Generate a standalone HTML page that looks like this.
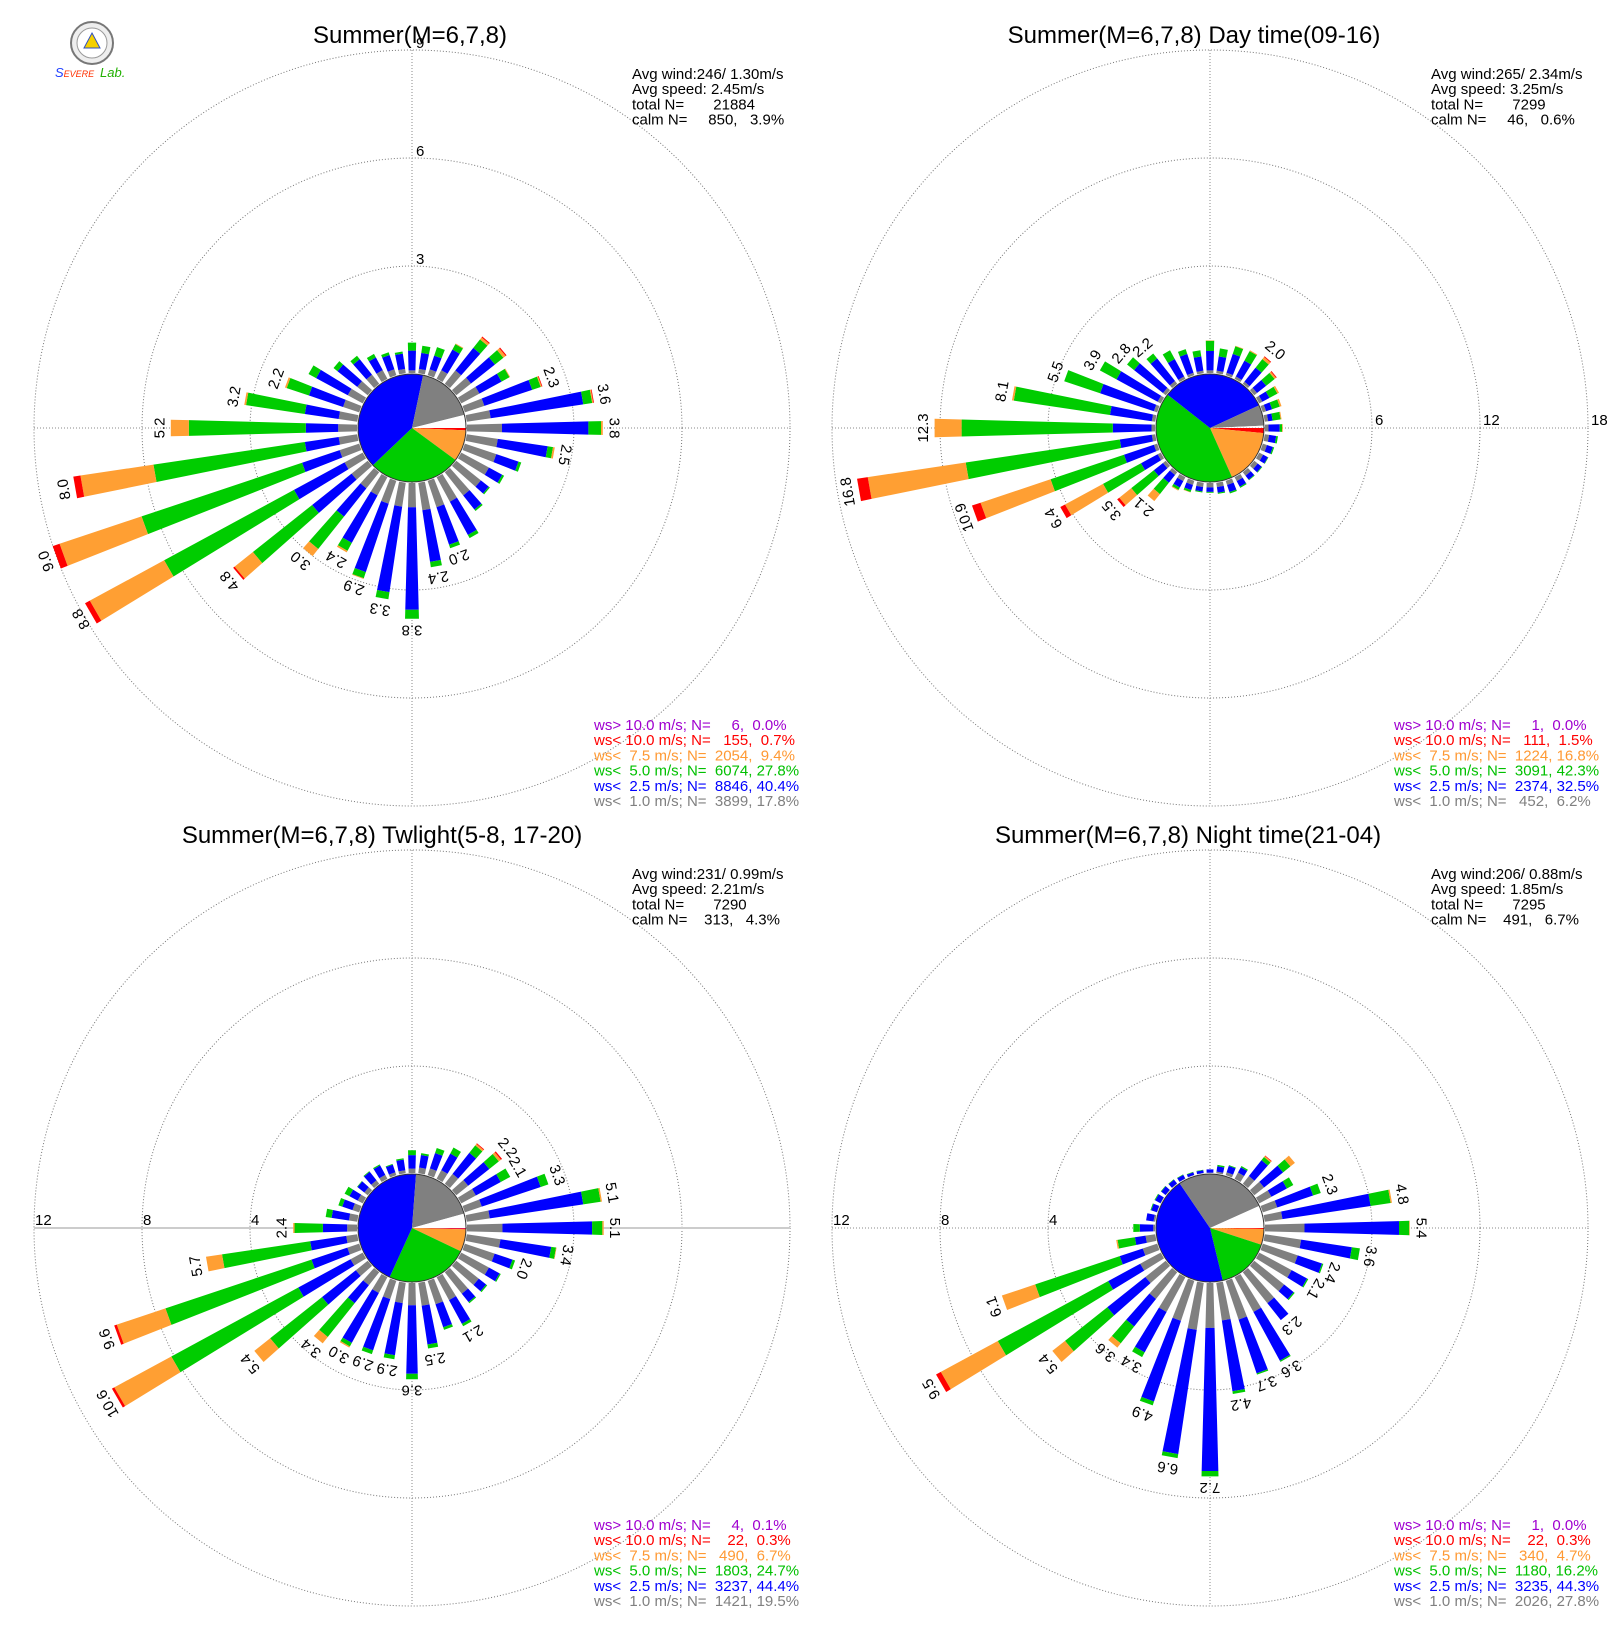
<!DOCTYPE html>
<html><head><meta charset="utf-8"><title>Summer wind roses</title>
<style>
html,body{margin:0;padding:0;background:#fff;}
svg{display:block;font-family:"Liberation Sans",sans-serif;}
</style></head>
<body>
<svg id="chart" width="1620" height="1640" viewBox="0 0 1620 1640" xmlns="http://www.w3.org/2000/svg">
<rect x="0" y="0" width="1620" height="1640" fill="#fff"/>
<g>
  <circle cx="92" cy="43" r="21" fill="#eee" stroke="#777" stroke-width="2"/>
  <circle cx="92" cy="43" r="15" fill="#fff" stroke="#999" stroke-width="1"/>
  <polygon points="92,33 100,48 84,48" fill="#f5d000" stroke="#3050c0" stroke-width="1"/>
  <text x="55" y="77" font-size="13" font-style="italic" fill="#2040ff">S<tspan fill="#ff3000" font-size="9">EVERE</tspan></text>
  <text x="100" y="77" font-size="13" font-style="italic" fill="#20b000">Lab.</text>
</g>
</svg>
<script>
// ---- cumulative stacked values per direction (0,10,...,350 deg) ----
// Top-left: Summer all
const tlGray  =[.1,.15,.2,.3,.5,.55,.6,.6,.7,1.0,.9,.95,.9,.9,.85,.8,.8,.8,.7,.7,.7,.6,.6,.6,.6,.6,.55,.55,.55,.5,.5,.4,.35,.3,.2,.15];
const tlBlue  =[.65,.6,.6,.95,1.3,1.4,1.3,2.0,3.3,3.4,2.3,1.6,1.32,1.18,1.35,1.85,1.9,2.25,3.55,3.1,2.7,2.1,1.6,2.0,2.2,1.7,1.5,1.45,1.5,1.5,1.5,1.1,.9,.7,.62,.58];
const tlGreen =[.87,.8,.85,1.12,1.6,1.7,1.55,2.25,3.55,3.75,2.45,1.68,1.38,1.22,1.4,1.95,2.0,2.4,3.8,3.3,2.88,2.35,2.75,4.1,6.3,6.4,5.75,4.7,3.15,2.15,1.74,1.24,1.02,.81,.7,.64];
const tlOrange=[.87,.8,.85,1.14,1.67,1.78,1.57,2.28,3.58,3.8,2.5,1.68,1.38,1.22,1.4,1.95,2.0,2.4,3.8,3.3,2.9,2.4,3.0,4.75,8.65,8.8,7.8,5.2,3.2,2.2,1.74,1.24,1.02,.81,.7,.64];
const tlTotal =[.87,.8,.85,1.14,1.7,1.81,1.57,2.3,3.6,3.8,2.5,1.68,1.38,1.22,1.4,1.95,2.0,2.4,3.8,3.3,2.9,2.4,3.0,4.8,8.8,9.0,8.0,5.2,3.2,2.2,1.74,1.24,1.02,.81,.7,.64];
const tlPie   =[0.0,0.7,9.4,27.8,40.4,17.8,3.9]; // purple, red, orange, green, blue, gray, calm
const tlTicks =[3,6,9];
// Top-right: Day time
const trGray  =[.2,.2,.2,.2,.2,.25,.25,.25,.25,.25,.3,.3,.3,.3,.3,.3,.3,.3,.3,.3,.3,.3,.25,.25,.25,.25,.25,.25,.25,.25,.25,.25,.25,.2,.2,.2];
const trBlue  =[1.28,1.0,1.3,1.2,1.2,.9,.7,.6,.5,.87,.7,.65,.6,.58,.58,.65,.72,.62,.55,.55,.6,.7,.8,.9,1.3,2.0,2.05,2.4,2.6,3.4,2.85,2.3,1.85,1.3,1.3,1.0];
const trGreen =[1.85,1.45,1.75,1.8,1.8,1.5,1.2,1.05,.95,1.0,.8,.72,.63,.62,.62,.72,.8,.68,.6,.6,.72,.85,1.6,2.5,3.7,6.3,10.7,10.8,8.0,5.5,3.9,2.8,2.2,1.85,1.58,1.35];
const trOrange=[1.87,1.45,1.78,1.85,1.95,1.6,1.3,1.15,1.0,1.04,.8,.72,.63,.62,.62,.72,.8,.68,.6,.6,.74,.9,2.1,3.35,6.1,10.4,16.2,12.3,8.1,5.5,3.9,2.8,2.2,1.85,1.58,1.35];
const trTotal =[1.87,1.45,1.78,1.85,2.0,1.65,1.3,1.15,1.0,1.04,.8,.72,.63,.62,.62,.72,.8,.68,.6,.6,.74,.9,2.1,3.5,6.4,10.9,16.8,12.3,8.1,5.5,3.9,2.8,2.2,1.85,1.58,1.35];
const trPie   =[0.0,1.5,16.8,42.3,32.5,6.2,0.6];
const trTicks =[6,12,18];
// Bottom-left: Twilight
const blGray  =[.2,.25,.3,.4,.5,.6,.65,.7,.9,1.35,1.3,1.2,1.2,1.1,1.05,1.0,.95,.9,.86,.8,.75,.7,.65,.6,.55,.5,.45,.4,.35,.3,.25,.2,.2,.2,.15,.15];
const blBlue  =[.7,.72,.9,1.1,1.5,1.6,1.7,3.0,4.4,4.67,3.2,1.9,1.65,1.45,1.45,2.0,1.85,2.35,3.4,2.75,2.75,2.8,1.5,2.2,2.75,1.9,1.8,1.3,1.0,.7,.6,.52,.6,.6,.45,.55];
const blGreen =[.88,.79,1.1,1.35,1.85,2.05,2.1,3.3,5.05,5.05,3.38,2.0,1.7,1.5,1.5,2.1,1.95,2.5,3.6,2.9,2.9,2.95,3.1,4.65,8.1,7.6,5.1,2.35,1.22,.85,.8,.54,.63,.64,.48,.6];
const blOrange=[.88,.79,1.1,1.35,1.92,2.15,2.1,3.3,5.1,5.1,3.4,2.0,1.7,1.5,1.5,2.1,1.95,2.5,3.6,2.9,2.9,3.0,3.4,5.4,10.5,9.5,5.7,2.4,1.22,.85,.8,.54,.63,.64,.48,.6];
const blTotal =[.88,.79,1.1,1.35,1.95,2.2,2.1,3.3,5.1,5.1,3.4,2.0,1.7,1.5,1.5,2.1,1.95,2.5,3.6,2.9,2.9,3.0,3.4,5.4,10.6,9.6,5.7,2.4,1.22,.85,.8,.54,.63,.64,.48,.6];
const blPie   =[0.1,0.3,6.7,24.7,44.4,19.5,4.3];
const blTicks =[4,8,12];
// Bottom-right: Night time
const brGray  =[.05,.1,.15,.3,.4,.5,.55,.6,.7,1.5,1.4,1.4,1.4,1.45,1.5,1.5,1.55,1.45,1.7,1.8,1.6,1.5,1.3,1.0,.9,.6,.4,.1,.1,.05,.05,.05,.05,.05,.05,.05];
const brBlue  =[.17,.3,.4,.52,1.15,1.4,1.2,2.0,4.0,5.0,3.3,2.35,2.05,1.9,2.3,3.55,3.65,4.1,7.0,6.45,4.75,3.2,2.6,2.8,2.25,1.5,.8,.6,.38,.27,.27,.25,.23,.2,.15,.15];
const brGreen =[.17,.35,.43,.57,1.3,1.75,1.47,2.3,4.75,5.38,3.6,2.4,2.1,1.95,2.3,3.6,3.7,4.2,7.2,6.6,4.9,3.4,3.4,4.8,6.9,4.8,1.45,.84,.38,.3,.3,.27,.25,.22,.17,.17];
const brOrange=[.17,.35,.43,.57,1.35,1.96,1.47,2.3,4.8,5.4,3.6,2.4,2.1,1.95,2.3,3.6,3.7,4.2,7.2,6.6,4.9,3.4,3.6,5.4,9.3,6.1,1.5,.84,.38,.3,.3,.27,.25,.22,.17,.17];
const brTotal =[.17,.35,.43,.57,1.37,1.96,1.47,2.3,4.8,5.4,3.6,2.4,2.1,1.95,2.3,3.6,3.7,4.2,7.2,6.6,4.9,3.4,3.6,5.4,9.5,6.1,1.5,.84,.38,.3,.3,.27,.25,.22,.17,.17];
const brPie   =[0.0,0.3,4.7,16.2,44.3,27.8,6.7];
const brTicks =[4,8,12];

const tlStats=["Avg wind:246/ 1.30m/s","Avg speed: 2.45m/s","total N=       21884","calm N=     850,   3.9%"];
const trStats=["Avg wind:265/ 2.34m/s","Avg speed: 3.25m/s","total N=       7299","calm N=     46,   0.6%"];
const blStats=["Avg wind:231/ 0.99m/s","Avg speed: 2.21m/s","total N=       7290","calm N=    313,   4.3%"];
const brStats=["Avg wind:206/ 0.88m/s","Avg speed: 1.85m/s","total N=       7295","calm N=    491,   6.7%"];
const tlLegend=["ws> 10.0 m/s; N=     6,  0.0%","ws< 10.0 m/s; N=   155,  0.7%","ws<  7.5 m/s; N=  2054,  9.4%","ws<  5.0 m/s; N=  6074, 27.8%","ws<  2.5 m/s; N=  8846, 40.4%","ws<  1.0 m/s; N=  3899, 17.8%"];
const trLegend=["ws> 10.0 m/s; N=     1,  0.0%","ws< 10.0 m/s; N=   111,  1.5%","ws<  7.5 m/s; N=  1224, 16.8%","ws<  5.0 m/s; N=  3091, 42.3%","ws<  2.5 m/s; N=  2374, 32.5%","ws<  1.0 m/s; N=   452,  6.2%"];
const blLegend=["ws> 10.0 m/s; N=     4,  0.1%","ws< 10.0 m/s; N=    22,  0.3%","ws<  7.5 m/s; N=   490,  6.7%","ws<  5.0 m/s; N=  1803, 24.7%","ws<  2.5 m/s; N=  3237, 44.4%","ws<  1.0 m/s; N=  1421, 19.5%"];
const brLegend=["ws> 10.0 m/s; N=     1,  0.0%","ws< 10.0 m/s; N=    22,  0.3%","ws<  7.5 m/s; N=   340,  4.7%","ws<  5.0 m/s; N=  1180, 16.2%","ws<  2.5 m/s; N=  3235, 44.3%","ws<  1.0 m/s; N=  2026, 27.8%"];

const NS="http://www.w3.org/2000/svg";
const svg=document.getElementById('chart');
const COLORS=['#808080','#0000ff','#00cc00','#ff9f33','#ff0000'];
const PIECOL=['#a020f0','#ff0000','#ff9f33','#00cc00','#0000ff','#808080','#ffffff'];
const LEGCOL=['#a000d0','#ff0000','#ff9933','#00c000','#0000ff','#808080'];
const CLASSNAMES=['calm-lt1','lt2p5','lt5','lt7p5','lt10'];

function mk(tag,attrs,parent){const e=document.createElementNS(NS,tag);for(const k in attrs)e.setAttribute(k,attrs[k]);(parent||svg).appendChild(e);return e;}

function panel(p){
  const g=mk('g',{});
  
  
  const R0=54, RMAX=378, kx=(RMAX-R0)/p.ticks[p.ticks.length-1];
  const rad=v=>R0+v*kx;
  p.ticks.forEach(t=>{
    const c=mk('circle',{cx:p.cx,cy:p.cy,r:rad(t),fill:'none',stroke:'#777','stroke-width':1,'stroke-dasharray':'1,2'},g);
    
    
  });
  const av=mk('line',{x1:p.cx,y1:p.cy-RMAX,x2:p.cx,y2:p.cy+RMAX,stroke:'#888','stroke-width':1,'stroke-dasharray':'1,2'},g);
  
  
  const ah=mk('line',{x1:p.cx-RMAX,y1:p.cy,x2:p.cx+RMAX,y2:p.cy,stroke:p.hSolid?'#ccc':'#888','stroke-width':p.hSolid?2:1,'stroke-dasharray':p.hSolid?'none':'1,2'},g);
  
  
  p.ticks.forEach(t=>{
    let x,y;
    if(p.tickSide==='N'){x=p.cx+4;y=p.cy-rad(t)-2;}
    else if(p.tickSide==='E'){x=p.cx+rad(t)+3;y=p.cy-3;}
    else {x=p.cx-rad(t)+1;y=p.cy-3;}
    const tx=mk('text',{x:x,y:y,'font-size':15,fill:'#000'},g);
    tx.textContent=String(t);
    
    
  });
  const series=[p.gray,p.blue,p.green,p.orange,p.total];
  const hw=r=>0.0265*(r+72);
  for(let i=0;i<36;i++){
    const b=i*10*Math.PI/180;
    const ux=Math.sin(b),uy=-Math.cos(b),px=Math.cos(b),py=Math.sin(b);
    let prev=0;
    for(let s=0;s<5;s++){
      const v=series[s][i];
      if(v-prev>0.001){
        const r0=rad(prev)+(s===0?1:0),r1=rad(v);
        const w0=hw(r0),w1=hw(r1);
        const pts=[[p.cx+ux*r0+px*w0,p.cy+uy*r0+py*w0],[p.cx+ux*r1+px*w1,p.cy+uy*r1+py*w1],[p.cx+ux*r1-px*w1,p.cy+uy*r1-py*w1],[p.cx+ux*r0-px*w0,p.cy+uy*r0-py*w0]];
        const poly=mk('polygon',{points:pts.map(q=>q[0].toFixed(2)+','+q[1].toFixed(2)).join(' '),fill:COLORS[s]},g);
        
        
      }
      prev=Math.max(prev,v);
    }
    const tot=p.total[i];
    if(tot>=2.0){
      const rl=rad(tot)+11;
      const lx=p.cx+ux*rl,ly=p.cy+uy*rl;
      const lab=mk('text',{x:0,y:0,'font-size':15,'text-anchor':'middle','dominant-baseline':'central',transform:'translate('+lx.toFixed(1)+','+ly.toFixed(1)+') rotate('+(i*10)+')'},g);
      lab.textContent=tot.toFixed(1);
      
      
    }
  }
  let start=90;
  const PR=54;
  const pieNames=['pie-gt10','pie-lt10','pie-lt7p5','pie-lt5','pie-lt2p5','pie-lt1','pie-calm'];
  p.pie.forEach((pct,k)=>{
    if(pct<=0)return;
    const sweep=pct*3.6, a0=start*Math.PI/180, a1=(start+sweep)*Math.PI/180;
    const x0=p.cx+PR*Math.sin(a0),y0=p.cy-PR*Math.cos(a0),x1=p.cx+PR*Math.sin(a1),y1=p.cy-PR*Math.cos(a1);
    const d='M'+p.cx+','+p.cy+' L'+x0.toFixed(2)+','+y0.toFixed(2)+' A'+PR+','+PR+' 0 '+(sweep>180?1:0)+' 1 '+x1.toFixed(2)+','+y1.toFixed(2)+' Z';
    const sl=mk('path',{d:d,fill:PIECOL[k]},g);
    
    
    start+=sweep;
  });
  const outline=mk('circle',{cx:p.cx,cy:p.cy,r:PR,fill:'none',stroke:'#333','stroke-width':1},g);
  
  
  const tt=mk('text',{x:p.titleX,y:p.titleY,'font-size':24,'text-anchor':'middle',fill:'#000'},g);
  tt.textContent=p.title;
  
  
  p.stats.forEach((s,k)=>{
    const st=mk('text',{x:p.statX,y:p.statY+k*15.2,'font-size':15,fill:'#000'},g);
    st.setAttribute('xml:space','preserve');
    st.style.whiteSpace='pre';
    st.textContent=s;
    
    
  });
  p.legend.forEach((s,k)=>{
    const lt=mk('text',{x:p.legX,y:p.legY+k*15.2,'font-size':15,fill:LEGCOL[k]},g);
    lt.setAttribute('xml:space','preserve');
    lt.style.whiteSpace='pre';
    lt.textContent=s;
    
    
  });
}

panel({name:'rose-summer-all',cx:412,cy:428,ticks:tlTicks,tickSide:'N',gray:tlGray,blue:tlBlue,green:tlGreen,orange:tlOrange,total:tlTotal,pie:tlPie,
  title:'Summer(M=6,7,8)',titleX:410,titleY:43,stats:tlStats,statX:632,statY:79,legend:tlLegend,legX:594,legY:730});
panel({name:'rose-summer-day',cx:1210,cy:428,ticks:trTicks,tickSide:'E',gray:trGray,blue:trBlue,green:trGreen,orange:trOrange,total:trTotal,pie:trPie,
  title:'Summer(M=6,7,8) Day time(09-16)',titleX:1194,titleY:43,stats:trStats,statX:1431,statY:79,legend:trLegend,legX:1394,legY:730});
panel({name:'rose-summer-twilight',cx:412,cy:1228,ticks:blTicks,tickSide:'W',hSolid:true,gray:blGray,blue:blBlue,green:blGreen,orange:blOrange,total:blTotal,pie:blPie,
  title:'Summer(M=6,7,8) Twlight(5-8, 17-20)',titleX:382,titleY:843,stats:blStats,statX:632,statY:879,legend:blLegend,legX:594,legY:1530});
panel({name:'rose-summer-night',cx:1210,cy:1228,ticks:brTicks,tickSide:'W',gray:brGray,blue:brBlue,green:brGreen,orange:brOrange,total:brTotal,pie:brPie,
  title:'Summer(M=6,7,8) Night time(21-04)',titleX:1188,titleY:843,stats:brStats,statX:1431,statY:879,legend:brLegend,legX:1394,legY:1530});
</script>
</body></html>
